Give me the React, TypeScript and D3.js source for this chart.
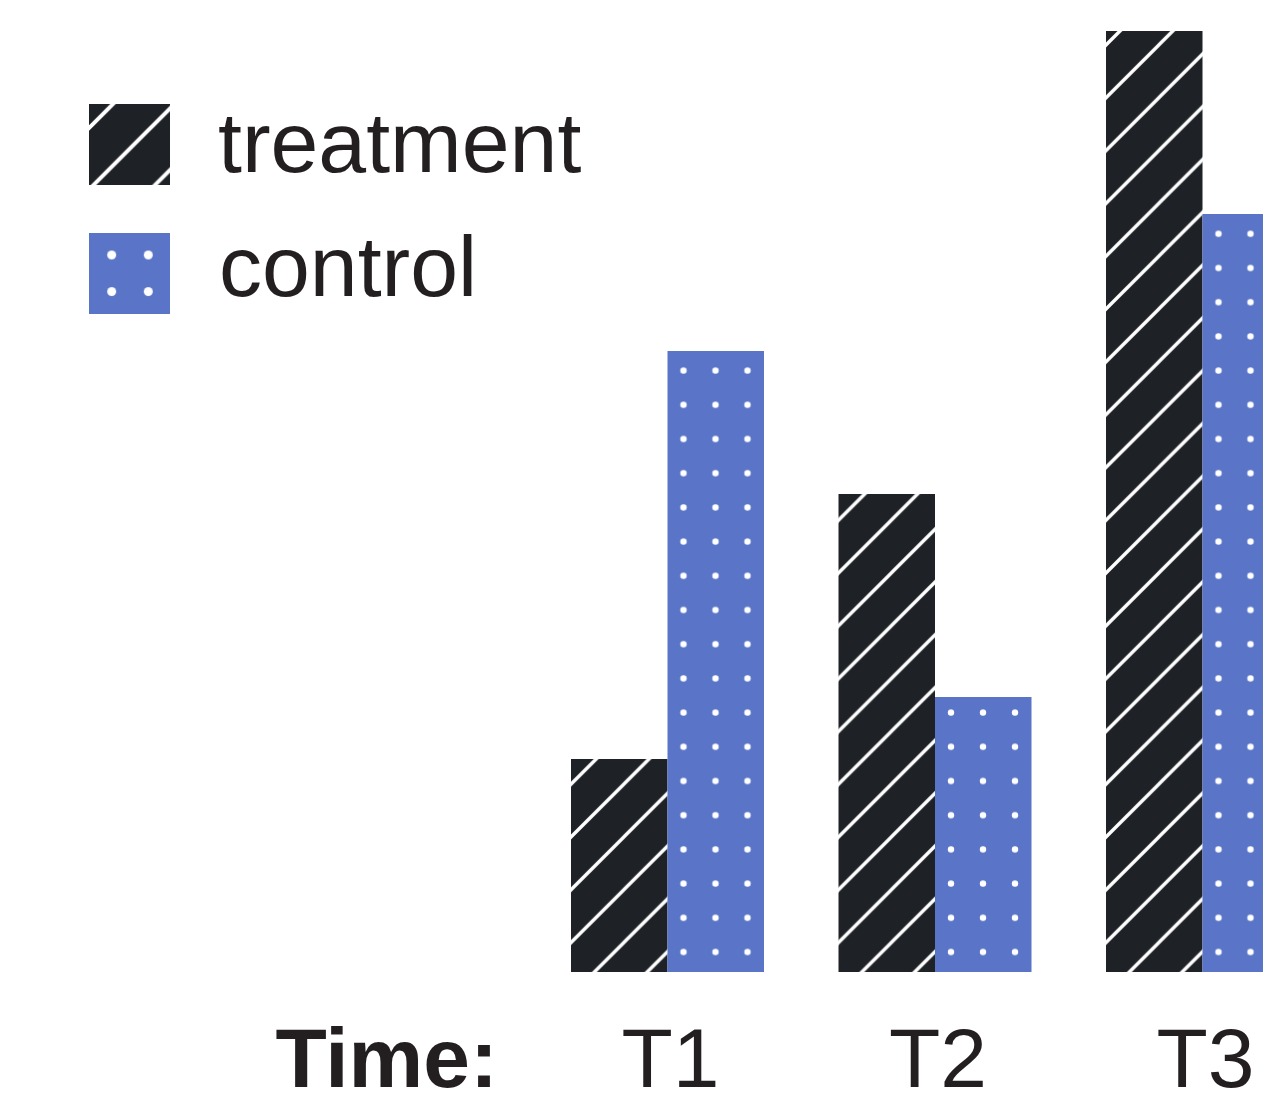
import React from "react";
import * as d3 from "d3";

const categories = ["T1", "T2", "T3"];
const seriesNames = ["treatment", "control"];
const treatmentValues = [2.13, 4.78, 9.41];
const controlValues = [6.21, 2.75, 7.58];
const axisTitle = "Time:";

const W = 1263;
const H = 1098;
const BASE = 972;
const DARK = "#1e2226";
const BLUE = "#5a75c7";
const TEXT = "#231f20";
const FONT = "'Liberation Sans', Arial, Helvetica, sans-serif";

export default function App() {
  const x = d3
    .scaleBand<string>()
    .domain(categories)
    .range([571, 1299])
    .paddingInner(0.2785)
    .paddingOuter(0);
  const xs = d3.scaleBand<string>().domain(seriesNames).range([0, x.bandwidth()]).padding(0);
  const y = d3.scaleLinear().domain([0, 10]).range([BASE, BASE - 1000]);

  const S = 52.8;
  const LS = 61.5;
  const hatchPath = (s: number) =>
    `M0,${s} L${s},0 M${-s / 4},${s / 4} L${s / 4},${-s / 4} M${(3 * s) / 4},${(5 * s) / 4} L${(5 * s) / 4},${(3 * s) / 4}`;

  const bars = categories.flatMap((c, i) => [
    { cat: c, series: "treatment", value: treatmentValues[i] },
    { cat: c, series: "control", value: controlValues[i] },
  ]);

  return (
    <svg
      width={W}
      height={H}
      style={{ position: "absolute", left: 0, top: 0, background: "#fff" }}
    >
      <defs>
        {bars.map((b) => {
          const bx = (x(b.cat) ?? 0) + (xs(b.series) ?? 0);
          if (b.series === "treatment") {
            return (
              <pattern
                key={`p-${b.cat}-${b.series}`}
                id={`pat-${b.cat}-${b.series}`}
                patternUnits="userSpaceOnUse"
                x={bx}
                y={y(0) - 29.4 - S}
                width={S}
                height={S}
              >
                <rect width={S} height={S} fill={DARK} />
                <path d={hatchPath(S)} stroke="#fff" strokeWidth={3.4} />
              </pattern>
            );
          }
          return (
            <pattern
              key={`p-${b.cat}-${b.series}`}
              id={`pat-${b.cat}-${b.series}`}
              patternUnits="userSpaceOnUse"
              x={bx}
              y={y(0) - 20 - 17.1}
              width={32}
              height={34.2}
            >
              <rect width={32} height={34.2} fill={BLUE} />
              <circle cx={16} cy={17.1} r={3.2} fill="#fff" />
            </pattern>
          );
        })}
        <pattern
          id="leg-treatment"
          patternUnits="userSpaceOnUse"
          x={89}
          y={128 - LS}
          width={LS}
          height={LS}
        >
          <rect width={LS} height={LS} fill={DARK} />
          <path d={hatchPath(LS)} stroke="#fff" strokeWidth={4} />
        </pattern>
        <pattern
          id="leg-control"
          patternUnits="userSpaceOnUse"
          x={89 + 4.4}
          y={233 + 3.7}
          width={36.6}
          height={36.6}
        >
          <rect width={36.6} height={36.6} fill={BLUE} />
          <circle cx={18.3} cy={18.3} r={4.5} fill="#fff" />
        </pattern>
      </defs>

      <g>
        {bars.map((b) => {
          const bx = (x(b.cat) ?? 0) + (xs(b.series) ?? 0);
          return (
            <rect
              key={`${b.cat}-${b.series}`}
              x={bx}
              y={y(b.value)}
              width={xs.bandwidth()}
              height={y(0) - y(b.value)}
              fill={`url(#pat-${b.cat}-${b.series})`}
            />
          );
        })}
      </g>

      <g>
        <rect x={89} y={104} width={81} height={81} fill="url(#leg-treatment)" />
        <text x={218} y={172} fontFamily={FONT} fontSize={86} fill={TEXT}>
          {seriesNames[0]}
        </text>
        <rect x={89} y={233} width={81} height={81} fill="url(#leg-control)" />
        <text x={219} y={296} fontFamily={FONT} fontSize={86} fill={TEXT}>
          {seriesNames[1]}
        </text>
      </g>

      <g fontFamily={FONT} fill={TEXT}>
        <text x={498} y={1087} fontSize={84} fontWeight="bold" textAnchor="end">
          {axisTitle}
        </text>
        {categories.map((c) => (
          <text
            key={c}
            x={(x(c) ?? 0) + x.bandwidth() / 2 + 3}
            y={1087}
            fontSize={84}
            textAnchor="middle"
          >
            {c}
          </text>
        ))}
      </g>
    </svg>
  );
}
